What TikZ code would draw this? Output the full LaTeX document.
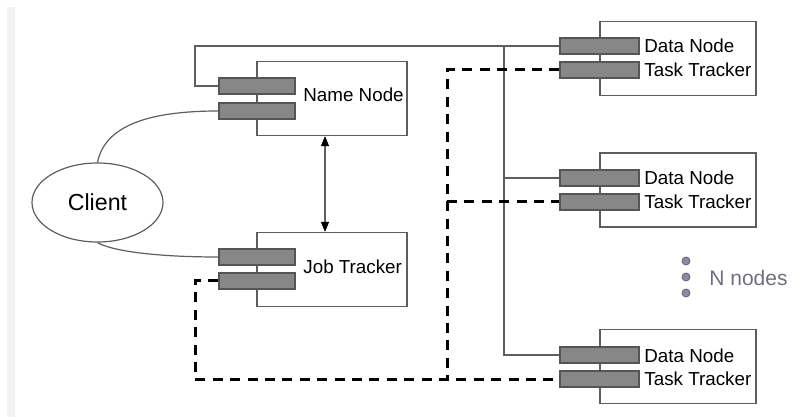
\documentclass[tikz,border=0pt]{standalone}
\usepackage{fontspec}
\setmainfont{Liberation Sans}
\usetikzlibrary{arrows.meta,shapes.geometric}
\definecolor{linegray}{HTML}{5E5E5E}
\definecolor{portfill}{HTML}{878787}
\definecolor{portedge}{HTML}{555555}
\definecolor{dotfill}{HTML}{8C8CA0}
\definecolor{dotedge}{HTML}{5F5F75}
\definecolor{notegray}{HTML}{6E6E7E}
\definecolor{stripgray}{HTML}{F2F2F2}

\begin{document}
\begin{tikzpicture}[x=0.5pt,y=-0.5pt,
  >={Triangle[length=5pt,width=4pt,color=black]},
  hostbox/.style={draw=linegray,line width=0.6pt,rectangle,inner sep=0pt,
    minimum width=75pt,minimum height=37pt},
  databox/.style={hostbox,minimum width=78pt},
  port/.style={draw=portedge,fill=portfill,line width=0.6pt,rectangle,inner sep=0pt,
    minimum width=38pt,minimum height=8pt},
  dport/.style={port,minimum width=39.5pt},
  wire/.style={draw=linegray,line width=0.6pt},
  jobwire/.style={draw=black,line width=1.5pt,dash pattern=on 5pt off 3.7pt},
  lbl/.style={inner sep=0pt,anchor=base west,font=\fontsize{9.4}{11}\selectfont,text=black},
  dot/.style={circle,draw=dotedge,fill=dotfill,line width=0.4pt,inner sep=0pt,minimum size=4pt}]

\useasboundingbox (0,0) rectangle (799,417);
\fill[stripgray] (7,7) rectangle (15,417);

% master hosts
\node[hostbox] (nn) at (332,98.5) {};
\node[hostbox] (jt) at (332,269.5) {};

% slave hosts
\node[databox] (dn1) at (678,58.5) {};
\node[databox] (dn2) at (678,190) {};
\node[databox] (dn3) at (678,366.5) {};

% ports
\node[port] (np1) at (257,86) {};
\node[port] (np2) at (257,111) {};
\node[port] (jp1) at (257,257) {};
\node[port] (jp2) at (257,281) {};
\node[dport] (d1a) at (599.5,46) {};
\node[dport] (d1b) at (599.5,70) {};
\node[dport] (d2a) at (599.5,178) {};
\node[dport] (d2b) at (599.5,202) {};
\node[dport] (d3a) at (599.5,355) {};
\node[dport] (d3b) at (599.5,379) {};

% labels
\node[lbl] (nnl) at (303,102) {Name Node};
\node[lbl] (jtl) at (303,273) {Job Tracker};
\node[lbl] (d1l) at (644,53) {Data Node};
\node[lbl] (t1l) at (644,77) {Task Tracker};
\node[lbl] (d2l) at (644,185) {Data Node};
\node[lbl] (t2l) at (644,209) {Task Tracker};
\node[lbl] (d3l) at (644,362) {Data Node};
\node[lbl] (t3l) at (644,386) {Task Tracker};

% client
\node[ellipse,draw=linegray,line width=0.6pt,minimum width=65.5pt,minimum height=39.5pt,
  inner sep=0pt,font=\fontsize{11.6}{13}\selectfont] (client) at (97.5,202.5) {Client};

% N nodes note
\node[dot] (dt1) at (686,261) {};
\node[dot] (dt2) at (686,277) {};
\node[dot] (dt3) at (686,293) {};
\node[inner sep=0pt,anchor=west,text=notegray,font=\fontsize{10.5}{12}\selectfont]
  (nnote) at (709,277.5) {N nodes};

% HDFS wiring
\coordinate (nnc) at (195,46);
\coordinate (bus) at (504,46);
\draw[wire] (np1.west) -| (nnc) -- (d1a.west);
\draw[wire] (bus) |- (d3a.west);
\draw[wire] (bus |- d2a.west) -- (d2a.west);

% MapReduce wiring
\coordinate (jtc) at (195,379);
\coordinate (tb) at (447,70);
\draw[jobwire] (jp2.west) -| (jtc) -- (d3b.west);
\draw[jobwire] (d1b.west) -- (tb) -- (tb |- d3b.west);
\draw[jobwire] (tb |- d2b.west) -- (d2b.west);

% client links
\draw[wire] (client.north) .. controls (105,125) and (150,111) .. (np2.west);
\draw[wire] (client.south) .. controls (110,250) and (150,257) .. (jp1.west);

% name node <-> job tracker
\draw[wire,<->]
  ([xshift=-3.5pt]nn.south) -- ([xshift=-3.5pt]jt.north);
\end{tikzpicture}
\end{document}
